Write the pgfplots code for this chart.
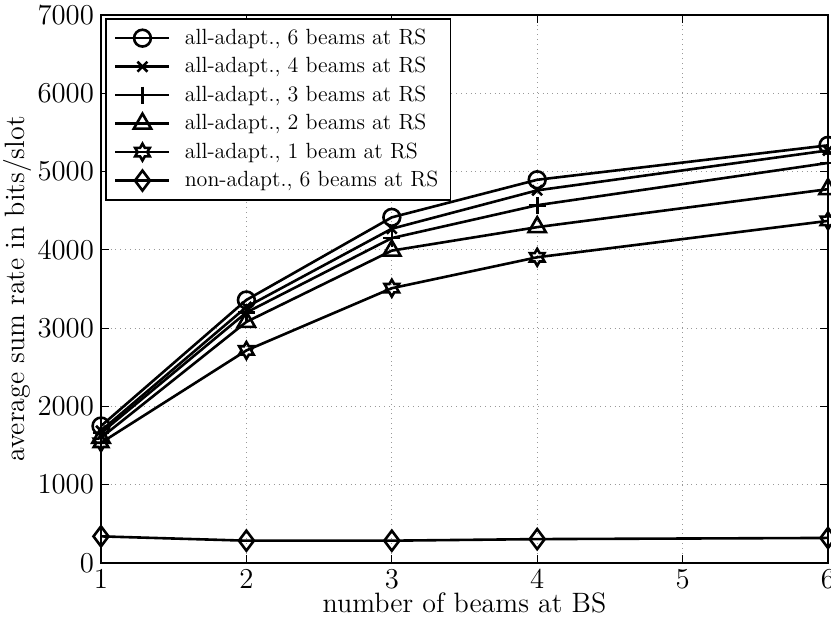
\documentclass[border=0pt]{standalone}
\usepackage{pgfplots}
\pgfplotsset{compat=1.18}
\pgfdeclareplotmark{hexagram}{%
  \pgfpathmoveto{\pgfpointpolar{90}{\pgfplotmarksize}}%
  \pgfpathlineto{\pgfpointpolar{120}{0.577\pgfplotmarksize}}%
  \pgfpathlineto{\pgfpointpolar{150}{\pgfplotmarksize}}%
  \pgfpathlineto{\pgfpointpolar{180}{0.577\pgfplotmarksize}}%
  \pgfpathlineto{\pgfpointpolar{210}{\pgfplotmarksize}}%
  \pgfpathlineto{\pgfpointpolar{240}{0.577\pgfplotmarksize}}%
  \pgfpathlineto{\pgfpointpolar{270}{\pgfplotmarksize}}%
  \pgfpathlineto{\pgfpointpolar{300}{0.577\pgfplotmarksize}}%
  \pgfpathlineto{\pgfpointpolar{330}{\pgfplotmarksize}}%
  \pgfpathlineto{\pgfpointpolar{0}{0.577\pgfplotmarksize}}%
  \pgfpathlineto{\pgfpointpolar{30}{\pgfplotmarksize}}%
  \pgfpathlineto{\pgfpointpolar{60}{0.577\pgfplotmarksize}}%
  \pgfpathclose
  \pgfusepathqstroke}
\begin{document}
\begin{tikzpicture}
\begin{axis}[
  scale only axis,
  width=363.5pt, height=274pt,
  xmin=1, xmax=6, ymin=0, ymax=7000,
  xtick={1,2,3,4,5,6},
  ytick={0,1000,2000,3000,4000,5000,6000,7000},
  scaled y ticks=false,
  yticklabel style={/pgf/number format/1000 sep={}},
  tick label style={font=\fontsize{13.5}{15}\selectfont},
  label style={font=\fontsize{14}{16}\selectfont},
  xlabel={number of beams at BS},
  ylabel={average sum rate in bits/slot},
  xlabel style={yshift=5pt},
  ylabel style={yshift=-4pt},
  tick align=inside,
  major tick length=4pt,
  axis line style={line width=0.8pt},
  every tick/.style={black, line width=0.6pt},
  grid=major,
  major grid style={dotted, gray!80, line width=0.6pt},
  legend cell align=left,
  legend style={at={(axis cs:1.03,6960)}, anchor=north west,
    font=\fontsize{11}{12.5}\selectfont, draw=black, line width=0.8pt,
    row sep=1pt, inner xsep=4pt, inner ysep=3pt,
    /tikz/every odd column/.append style={column sep=5pt}},
  legend image code/.code={%
    \draw[#1,mark=none] (0pt,0pt) -- (27pt,0pt);
    \draw[#1,only marks] plot coordinates {(13.5pt,0pt)};},
  every axis plot/.append style={black, line width=1.3pt, mark options={solid, fill=none, line width=1.3pt}},
]
\addplot[mark=o, mark size=4.2pt] coordinates {(1,1750)(2,3360)(3,4415)(4,4895)(6,5335)};
\addlegendentry{all-adapt., 6 beams at RS}
\addplot[mark=x, mark size=3.5pt] coordinates {(1,1690)(2,3270)(3,4270)(4,4760)(6,5270)};
\addlegendentry{all-adapt., 4 beams at RS}
\addplot[mark=+, mark size=4.2pt] coordinates {(1,1660)(2,3200)(3,4150)(4,4570)(6,5110)};
\addlegendentry{all-adapt., 3 beams at RS}
\addplot[mark=triangle, mark size=5pt] coordinates {(1,1600)(2,3080)(3,3990)(4,4290)(6,4775)};
\addlegendentry{all-adapt., 2 beams at RS}
\addplot[mark=hexagram, mark size=4.2pt] coordinates {(1,1535)(2,2715)(3,3510)(4,3905)(6,4370)};
\addlegendentry{all-adapt., 1 beam at RS}
\addplot[mark=diamond, mark size=5pt] coordinates {(1,340)(2,285)(3,285)(4,305)(6,320)};
\addlegendentry{non-adapt., 6 beams at RS}
\end{axis}
\pgfresetboundingbox
\path ([shift={(-50.5pt,-31.5pt)}]current axis.south west) rectangle ([shift={(1.5pt,7.5pt)}]current axis.north east);
\end{tikzpicture}
\end{document}
